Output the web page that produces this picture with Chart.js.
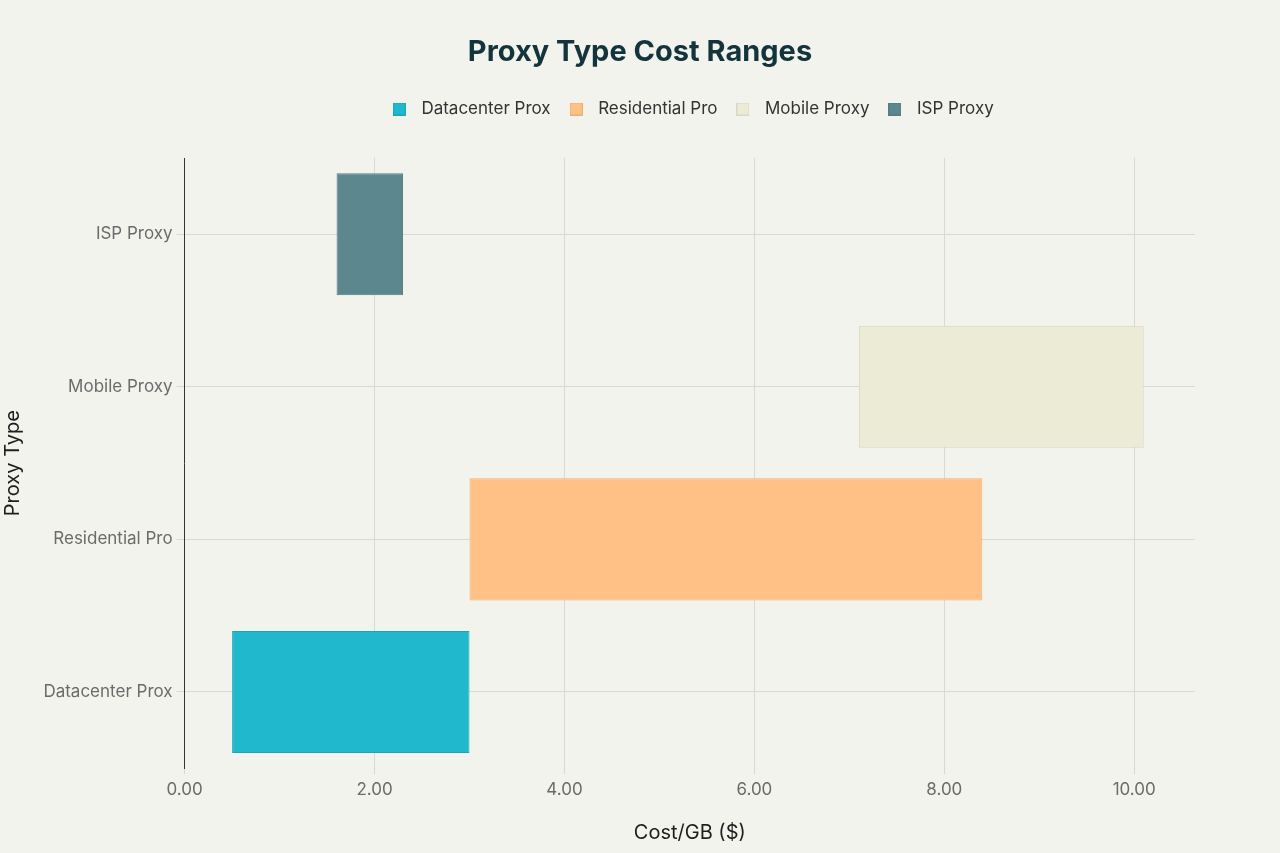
<!DOCTYPE html>
<html>
<head>
<meta charset="utf-8">
<script src="https://cdn.jsdelivr.net/npm/chart.js@4.4.1/dist/chart.umd.min.js"></script>
<style>
html,body{margin:0;padding:0;background:#F3F3EE;}
#wrap{width:1280px;height:853px;}
</style>
</head>
<body>
<div id="wrap"><canvas id="c" width="1280" height="853"></canvas></div>
<script>
const chartTitle = "Proxy Type Cost Ranges";
const categories = ["Datacenter Prox", "Residential Pro", "Mobile Proxy", "ISP Proxy"];
const seriesNames = ["Datacenter Prox", "Residential Pro", "Mobile Proxy", "ISP Proxy"];
const rangeLow  = [0.5, 3.0, 7.1, 1.6];
const rangeHigh = [3.0, 8.4, 10.1, 2.3];
const colors = ["#1FB8CD", "#FFC185", "#ECEBD5", "#5D878F"];
const borders = ["#1AA6B9", "#EDB079", "#D8D7C2", "#557C83"];
const xTicks = [0, 2, 4, 6, 8, 10];

const font = "Inter, 'Open Sans', sans-serif";

function swatch(fill, stroke) {
  const s = 13;
  const cv = document.createElement('canvas');
  cv.width = s; cv.height = s;
  const c = cv.getContext('2d');
  c.fillStyle = fill; c.fillRect(0, 0, s, s);
  c.strokeStyle = stroke; c.lineWidth = 1; c.strokeRect(0.5, 0.5, s - 1, s - 1);
  return cv;
}
const swatches = colors.map((c, i) => swatch(c, borders[i]));

const datasets = seriesNames.map((name, i) => ({
  label: name,
  data: categories.map((c, j) => j === i ? [rangeLow[i], rangeHigh[i]] : null),
  backgroundColor: colors[i],
  borderColor: borders[i],
  borderWidth: 1,
  borderSkipped: false,
  barPercentage: 0.8,
  categoryPercentage: 1.0
}));

new Chart(document.getElementById('c'), {
  type: 'bar',
  data: { labels: categories, datasets },
  options: {
    indexAxis: 'y',
    responsive: false,
    animation: false,
    grouped: false,
    layout: { padding: { left: 0, right: 85, top: 88.5, bottom: 0 } },
    plugins: {
      title: { display: false },
      legend: {
        position: 'top',
        fullSize: false,
        labels: {
          color: '#333',
          font: { family: font, size: 17 },
          usePointStyle: true,
          pointStyleWidth: 27,
          boxHeight: 13,
          padding: 12,
          generateLabels: (chart) => {
            const items = Chart.defaults.plugins.legend.labels.generateLabels(chart);
            items.forEach((it) => { it.pointStyle = swatches[it.datasetIndex]; });
            return items;
          }
        }
      },
      tooltip: { enabled: false }
    },
    scales: {
      x: {
        type: 'linear',
        min: 0,
        max: 10.64,
        afterBuildTicks: (axis) => { axis.ticks = xTicks.map(v => ({ value: v })); },
        ticks: {
          color: '#6B6B6B',
          font: { family: font, size: 17 },
          callback: (v) => Number(v).toFixed(2),
          padding: 5
        },
        grid: { color: '#D9D9D4', lineWidth: 1, tickLength: 6, drawTicks: true },
        border: { display: false },
        title: {
          display: true,
          text: 'Cost/GB ($)',
          color: '#1E1E1E',
          font: { family: font, size: 20 },
          padding: { top: 16.2, bottom: 8.2 }
        }
      },
      y: {
        reverse: true,
        ticks: {
          color: '#6B6B6B',
          font: { family: font, size: 17 },
          padding: 4
        },
        grid: { color: '#D9D9D4', lineWidth: 1, offset: false, tickLength: 8 },
        border: { display: true, color: '#333', width: 1 },
        title: {
          display: true,
          text: 'Proxy Type',
          color: '#1E1E1E',
          font: { family: font, size: 20 },
          padding: { top: 1, bottom: 14.4 }
        }
      }
    }
  },
  plugins: [{
    id: 'legendSpace',
    beforeInit(chart) {
      const lg = chart.legend;
      if (!lg) return;
      const origFit = lg.fit;
      lg.fit = function () {
        origFit.call(this);
        this.height = 69.5;
      };
    }
  }, {
    id: 'bgTitle',
    beforeDraw(chart) {
      const ctx = chart.ctx;
      ctx.save();
      ctx.fillStyle = '#F3F3EE';
      ctx.fillRect(0, 0, chart.width, chart.height);
      ctx.restore();
    },
    afterDraw(chart) {
      const ctx = chart.ctx;
      ctx.save();
      ctx.fillStyle = '#13343B';
      ctx.font = "bold 29px " + font;
      ctx.textAlign = 'center';
      ctx.textBaseline = 'middle';
      ctx.fillText(chartTitle, chart.width / 2, 52);
      ctx.restore();
    }
  }]
});
</script>
</body>
</html>
